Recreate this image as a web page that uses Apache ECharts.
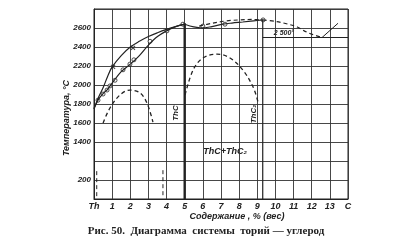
<!DOCTYPE html>
<html><head><meta charset="utf-8">
<script src="https://cdn.jsdelivr.net/npm/echarts@6/dist/echarts.min.js"></script>
<style>html,body{margin:0;padding:0;background:#fff}#c{width:400px;height:252px}</style>
</head><body><div id="c"></div>
<script>
// ---- data (x = carbon content, % by weight; T = temperature, °C) ----
const xTickLabels = ['Th','1','2','3','4','5','6','7','8','9','10','11','12','13','C'];
const yTickLabels = {200:'200', 600:'1400', 800:'1600', 1000:'1800', 1200:'2000', 1400:'2200', 1600:'2400', 1800:'2600'};
const liquidusX = [0,0.25,0.5,0.75,1,1.5,2,2.5,3,3.5,4,4.5,5];
const liquidusT = [1750,1870,1970,2090,2190,2310,2400,2460,2510,2550,2585,2615,2640];
const solidusX = [0,0.25,0.5,0.75,1,1.5,2,2.5,3,3.5,4,4.5,5];
const solidusT = [1750,1850,1910,1955,2020,2140,2220,2310,2420,2510,2570,2615,2640];
const thcRightX = [5,5.5,5.95,6.5,7.1,7.6,8.2,8.8,9.3];
const thcRightT = [2640,2612,2600,2615,2640,2652,2663,2675,2685];
const upperDashX = [5.8,6.5,7.3,8,8.7,9.3];
const upperDashT = [2620,2650,2675,2685,2690,2685];
const rightDashX = [9.3,10,10.5,11.2,11.8,12.57];
const rightDashT = [2685,2670,2650,2610,2550,2500];
const rightRiseX = [12.57,13.45];
const rightRiseT = [2500,2650];
const eutecticX = [9.3,14];
const eutecticT = [2500,2500];
const bigDomeX = [5.02,5.46,6.0,6.78,7.5,8.2,8.77,9.04];
const bigDomeT = [1895,2158,2284,2326,2284,2158,1979,1821];
const smallDomeX = [0.5,0.88,1.43,1.98,2.54,2.92,3.25];
const smallDomeT = [1600,1758,1895,1947,1916,1810,1610];
const thcLineX = [5,5]; const thcLineT = [0,2650];
const thc2LineX = [9.3,9.3]; const thc2LineT = [0,2685];
const lowThX = [0.15,0.15]; const lowThT = [30,325];
const low4X = [3.8,3.8]; const low4T = [40,325];
const circleX = [0.22,0.5,0.72,0.88,1.16,1.6,1.98,2.2,3.09,4.02,4.9,6.0,7.22,9.32];
const circleT = [1840,1905,1947,1990,2050,2160,2220,2265,2460,2570,2640,2620,2640,2685];
const crossX = [1.05,2.15];
const crossT = [2190,2390];

// broken temperature axis: above the break each 200 °C step is one grid row
function v(T){ return T >= 1000 ? T - 800 : T; }
function pts(xs, ts){ return xs.map((x,i)=>[x, v(ts[i])]); }

const ink = '#222';
function line(xs, ts, dashed, w){
  return {type:'line', data:pts(xs,ts), smooth:0.35, symbol:'none', silent:true,
    lineStyle:{color:ink, width:w||1.2, type: dashed ? [4,3] : 'solid'}};
}
const chart = echarts.init(document.getElementById('c'), null, {renderer:'canvas'});
chart.setOption({
  animation:false,
  backgroundColor:'#fff',
  grid:{left:94, right:52, top:9, bottom:53, show:true, borderColor:ink, borderWidth:1},
  xAxis:{type:'value', min:0, max:14, interval:1,
    axisLine:{lineStyle:{color:ink, width:1}}, axisTick:{show:false},
    splitLine:{lineStyle:{color:'#333', width:0.9}},
    axisLabel:{margin:3, color:ink, fontSize:9, fontStyle:'italic', fontWeight:'bold', fontFamily:'Liberation Sans',
      formatter:(val)=>xTickLabels[Math.round(val)]}},
  yAxis:{type:'value', min:0, max:2000, interval:200,
    axisLine:{show:true, lineStyle:{color:ink, width:1}}, axisTick:{show:false},
    splitLine:{lineStyle:{color:'#333', width:0.9}},
    axisLabel:{margin:3, color:ink, fontSize:8, fontStyle:'italic', fontWeight:'bold', fontFamily:'Liberation Sans',
      formatter:(val)=>yTickLabels[val]||''}},
  series:[
    line(liquidusX, liquidusT, false, 1.2),
    line(solidusX, solidusT, false, 1.2),
    line(thcRightX, thcRightT, false, 1.2),
    line(upperDashX, upperDashT, true, 1.2),
    line(rightDashX, rightDashT, true, 1.2),
    {type:'line', data:pts(rightRiseX,rightRiseT), symbol:'none', silent:true, lineStyle:{color:ink,width:1}},
    {type:'line', data:pts(eutecticX,eutecticT), symbol:'none', silent:true, lineStyle:{color:ink,width:1}},
    line(bigDomeX, bigDomeT, true, 1.3),
    line(smallDomeX, smallDomeT, true, 1.3),
    {type:'line', data:pts(thcLineX,thcLineT), symbol:'none', silent:true, lineStyle:{color:ink,width:2.4}},
    {type:'line', data:pts(thc2LineX,thc2LineT), symbol:'none', silent:true, lineStyle:{color:ink,width:1.2}},
    {type:'line', data:pts(lowThX,lowThT), symbol:'none', silent:true, lineStyle:{color:ink,width:1,type:[4,3]}},
    {type:'line', data:pts(low4X,low4T), symbol:'none', silent:true, lineStyle:{color:ink,width:1,type:[4,3]}},
    {type:'scatter', data:pts(circleX,circleT), symbol:'circle', symbolSize:4, silent:true,
      itemStyle:{color:'#fff', borderColor:ink, borderWidth:1}},
    {type:'scatter', data:pts(crossX,crossT), symbol:'path://M0,0L10,10M10,0L0,10', symbolSize:4, silent:true,
      itemStyle:{color:'none', borderColor:ink, borderWidth:1.2}}
  ],
  graphic:[
    {type:'text', x:67, y:118, rotation:Math.PI/2, style:{text:'Температура, °С', fill:ink,
      font:'italic bold 9px "Liberation Sans"', align:'center', verticalAlign:'middle'}},
    {type:'text', x:176, y:113, rotation:Math.PI/2, style:{text:'ThC', fill:ink,
      font:'italic bold 8px "Liberation Sans"', align:'center', verticalAlign:'middle'}},
    {type:'text', x:254, y:114, rotation:Math.PI/2, style:{text:'ThC₂', fill:ink,
      font:'italic bold 8px "Liberation Sans"', align:'center', verticalAlign:'middle'}},
    {type:'text', x:225, y:152, style:{text:'ThC+ThC₂', fill:ink,
      font:'italic bold 9px "Liberation Sans"', align:'center', verticalAlign:'middle'}},
    {type:'text', x:284, y:33, style:{text:'2 500°', fill:ink,
      font:'italic bold 7px "Liberation Sans"', align:'center', verticalAlign:'middle'}},
    {type:'text', x:237, y:217, style:{text:'Содержание , % (вес)', fill:ink,
      font:'italic bold 9px "Liberation Sans"', align:'center', verticalAlign:'middle'}},
    {type:'text', x:206, y:231, style:{text:'Рис. 50.  Диаграмма  системы  торий — углерод', fill:ink,
      font:'bold 11px "Liberation Serif"', align:'center', verticalAlign:'middle'}}
  ]
});
</script></body></html>
